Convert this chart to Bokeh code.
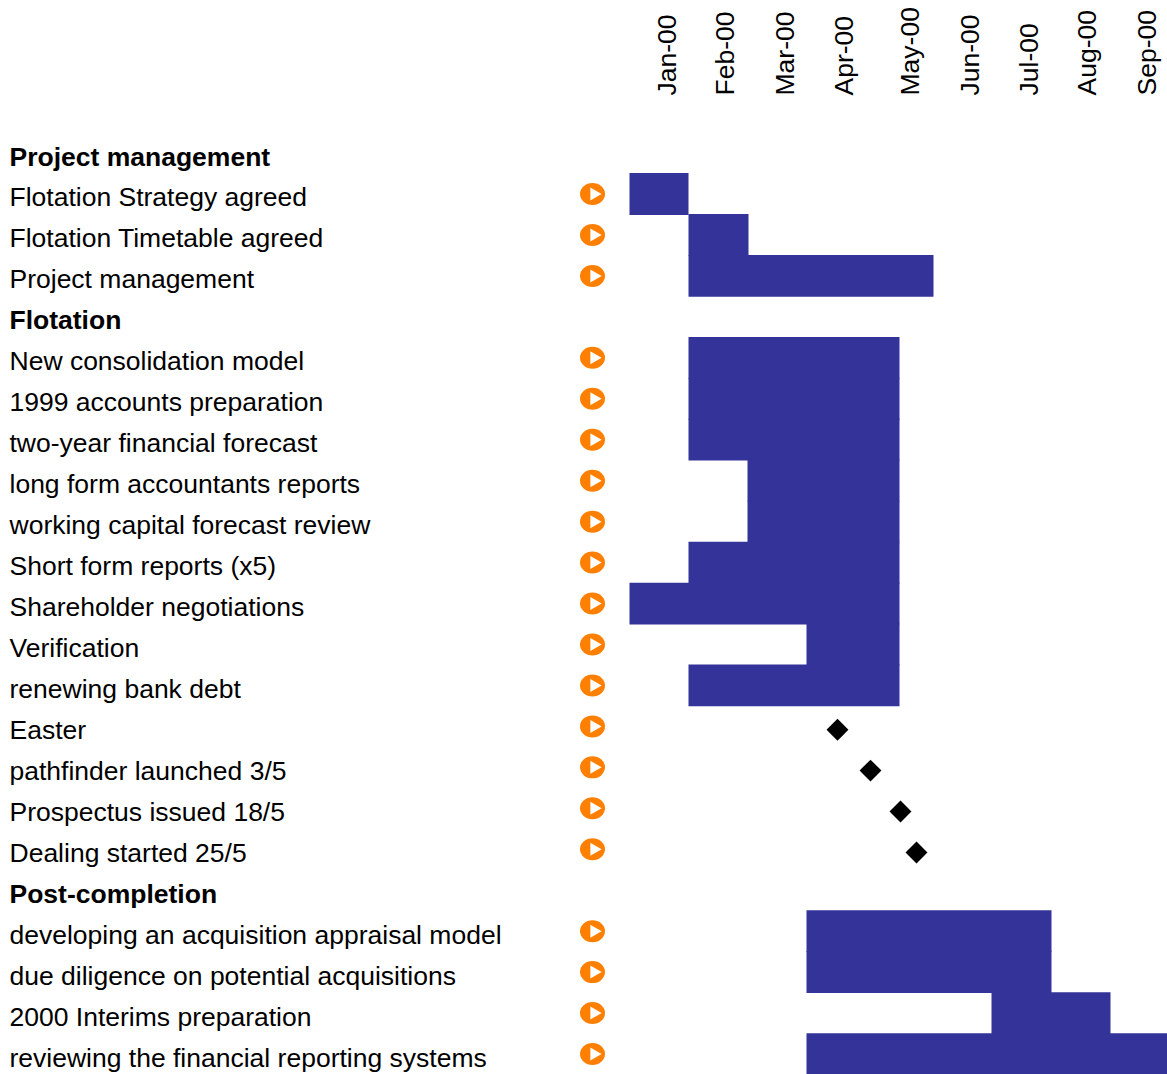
from math import pi
from bokeh.plotting import figure
from bokeh.models import FixedTicker, LinearAxis
from bokeh.core.properties import value
from bokeh.embed import file_html
from bokeh.resources import INLINE

tasks = ["Project management", "Flotation Strategy agreed", "Flotation Timetable agreed", "Project management",
         "Flotation", "New consolidation model", "1999 accounts preparation", "two-year financial forecast",
         "long form accountants reports", "working capital forecast review", "Short form reports (x5)",
         "Shareholder negotiations", "Verification", "renewing bank debt", "Easter", "pathfinder launched 3/5",
         "Prospectus issued 18/5", "Dealing started 25/5", "Post-completion",
         "developing an acquisition appraisal model", "due diligence on potential acquisitions",
         "2000 Interims preparation", "reviewing the financial reporting systems"]
heading_rows = [0, 4, 18]

bar_rows = [1, 2, 3, 5, 6, 7, 8, 9, 10, 11, 12, 13, 19, 20, 21, 22]
bar_start = [0, 29.5, 29.5, 29.5, 29.5, 29.5, 59, 59, 29.5, 0, 88.5, 29.5, 88.5, 88.5, 181, 88.5]
bar_end = [29.5, 59.5, 152, 135, 135, 135, 135, 135, 135, 135, 135, 135, 211, 211, 240.5, 275]

milestone_rows = [14, 15, 16, 17]
milestone_x = [104, 120.5, 135.5, 143.5]

months = ["Jan-00", "Feb-00", "Mar-00", "Apr-00", "May-00", "Jun-00", "Jul-00", "Aug-00", "Sep-00"]
month_ticks = [18.75, 47.75, 77.5, 107, 140.25, 170, 199.75, 228.5, 258.5]

LABEL_X = -310
ICON_X = -18.5
FONT = "Liberation Sans"
SIZE = "26.5px"

p = figure(width=1167, height=1074, output_backend="svg", toolbar_location=None,
           x_range=(-314.5, 269), y_range=(22.5, -1.283),
           min_border_left=0, min_border_right=0, min_border_bottom=0, min_border_top=100,
           outline_line_color=None)
p.yaxis.visible = False
p.xaxis.visible = False
p.grid.visible = False

ax = LinearAxis()
p.add_layout(ax, "above")
ax.ticker = FixedTicker(ticks=month_ticks)
ax.major_label_overrides = {t: m for t, m in zip(month_ticks, months)}
ax.major_label_orientation = pi / 2
ax.major_label_text_font = FONT
ax.major_label_text_font_size = SIZE
ax.major_label_text_color = "#000000"
ax.major_label_standoff = 5
ax.major_tick_out = 0
ax.major_tick_in = 0
ax.minor_tick_out = 0
ax.minor_tick_in = 0
ax.axis_line_color = None
ax.major_tick_line_color = None
ax.minor_tick_line_color = None

p.hbar(y=bar_rows, left=bar_start, right=bar_end, height=1.02, fill_color="#333399", line_color=None)

plain = [i for i in range(len(tasks)) if i not in heading_rows]
p.text(x=[LABEL_X] * len(plain), y=plain, text=[tasks[i] for i in plain], text_font=value(FONT),
       text_font_size=value(SIZE), text_baseline="middle", text_align="left", text_color="#000000", y_offset=3.5)
p.text(x=[LABEL_X] * len(heading_rows), y=heading_rows, text=[tasks[i] for i in heading_rows],
       text_font=value(FONT), text_font_size=value(SIZE), text_font_style="bold",
       text_baseline="middle", text_align="left", text_color="#000000", y_offset=3.5)

icon_rows = plain
p.ellipse(x=[ICON_X] * len(icon_rows), y=icon_rows, width=25, height=22, width_units="screen",
          height_units="screen", fill_color="#FF8000", line_color=None)
p.scatter(x=[ICON_X + 0.8] * len(icon_rows), y=icon_rows, marker="triangle", size=13, angle=-pi / 2,
          fill_color="#FFFFFF", line_color=None)

p.scatter(x=milestone_x, y=[r + 0.08 for r in milestone_rows], marker="square", size=15.5, angle=pi / 4,
          fill_color="#000000", line_color=None)

open("out.html", "w").write(file_html(p, INLINE))
